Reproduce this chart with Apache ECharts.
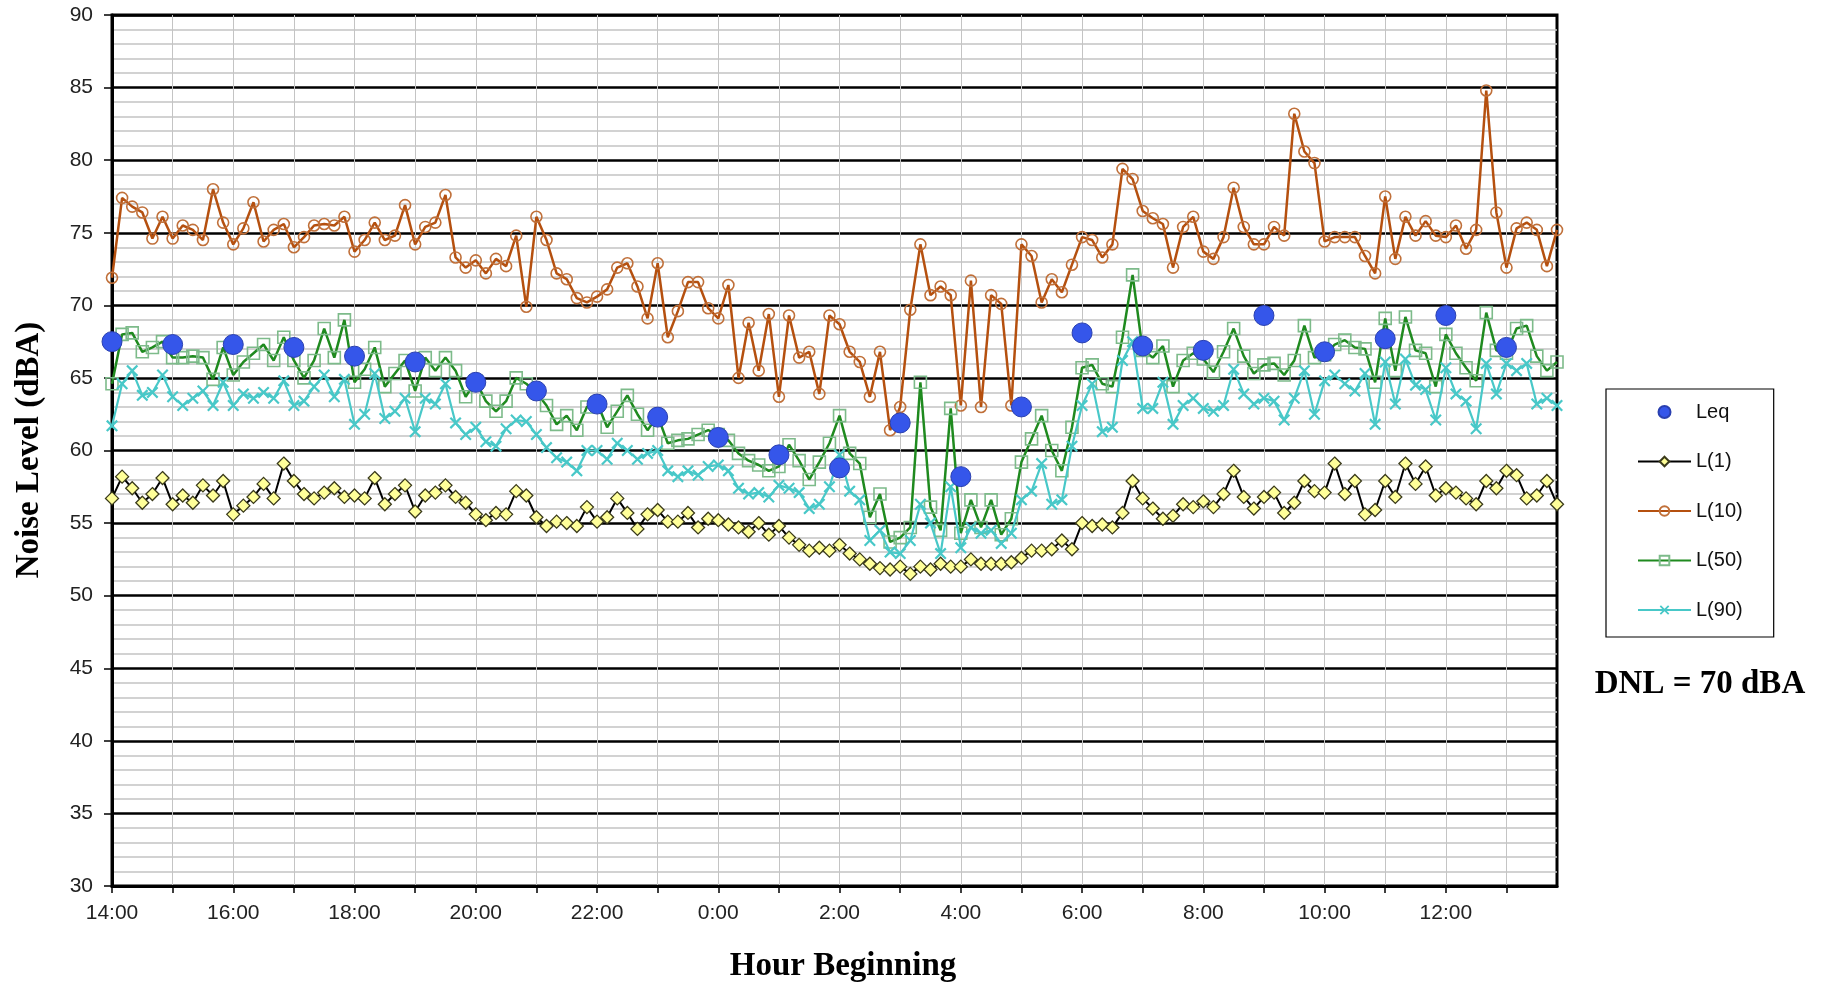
<!DOCTYPE html>
<html>
<head>
<meta charset="utf-8">
<script src="https://cdn.jsdelivr.net/npm/echarts@6/dist/echarts.min.js"></script>
<style>
html,body{margin:0;padding:0;background:#fff;}
#chart{width:1830px;height:986px;}
</style>
</head>
<body>
<div id="chart"></div>
<script>
// ---- data (10-minute intervals starting 14:00) ----
const startHour = 14;
const stepsPerHour = 6;
const nSteps = 144;
const categories = [];
for (let k = 0; k < nSteps; k++) {
  const h = (startHour + Math.floor(k / stepsPerHour)) % 24;
  const m = (k % stepsPerHour) * 10;
  categories.push(h + ':' + (m < 10 ? '0' + m : m));
}

const L1 = [56.7,58.2,57.4,56.4,57.0,58.1,56.3,56.9,56.4,57.6,56.9,57.9,55.6,56.2,56.8,57.7,56.7,59.1,57.9,57.0,56.7,57.1,57.4,56.8,
56.9,56.7,58.1,56.3,57.0,57.6,55.8,56.9,57.1,57.6,56.8,56.4,55.6,55.2,55.7,55.6,57.2,56.9,55.4,54.8,55.1,55.0,54.8,56.1,
55.1,55.4,56.7,55.7,54.6,55.6,55.9,55.1,55.1,55.7,54.7,55.3,55.2,54.9,54.7,54.4,55.0,54.2,54.8,54.0,53.5,53.1,53.3,53.1,
53.5,52.9,52.5,52.2,51.9,51.8,52.0,51.5,52.0,51.8,52.2,52.0,52.0,52.5,52.2,52.2,52.2,52.3,52.6,53.1,53.1,53.2,53.8,53.2,
55.0,54.8,54.9,54.7,55.7,57.9,56.7,56.0,55.3,55.5,56.3,56.1,56.5,56.1,57.0,58.6,56.8,56.0,56.8,57.1,55.7,56.4,57.9,57.2,
57.1,59.1,57.0,57.9,55.6,55.9,57.9,56.8,59.1,57.7,58.9,56.9,57.4,57.1,56.7,56.3,57.9,57.4,58.6,58.3,56.7,56.9,57.9,56.3];

const L10 = [71.9,77.4,76.8,76.4,74.6,76.1,74.6,75.5,75.2,74.5,78.0,75.7,74.2,75.3,77.1,74.4,75.2,75.6,74.0,74.7,75.5,75.6,75.5,76.1,
73.7,74.5,75.7,74.5,74.8,76.9,74.2,75.4,75.7,77.6,73.3,72.6,73.1,72.2,73.2,72.7,74.8,69.9,76.1,74.5,72.2,71.8,70.5,70.2,
70.6,71.1,72.6,72.9,71.3,69.1,72.9,67.8,69.6,71.6,71.6,69.8,69.1,71.4,65.0,68.8,65.5,69.4,63.7,69.3,66.4,66.8,63.9,69.3,
68.7,66.8,66.1,63.7,66.8,61.4,63.0,69.7,74.2,70.7,71.3,70.7,63.1,71.7,63.0,70.7,70.1,63.1,74.2,73.4,70.2,71.8,70.9,72.8,
74.7,74.5,73.3,74.2,79.4,78.7,76.5,76.0,75.6,72.6,75.4,76.1,73.7,73.2,74.7,78.1,75.4,74.2,74.2,75.4,74.8,83.2,80.6,79.8,
74.4,74.7,74.7,74.7,73.4,72.2,77.5,73.2,76.1,74.8,75.8,74.8,74.7,75.5,73.9,75.2,84.8,76.4,72.6,75.3,75.7,75.2,72.7,75.2];

const L50 = [64.6,68.0,68.1,66.8,67.1,67.5,66.4,66.4,66.5,66.4,64.9,67.1,65.2,66.1,66.7,67.3,66.2,67.8,66.2,65.0,66.2,68.4,66.4,69.0,
64.7,65.6,67.1,64.4,65.3,66.2,64.1,66.4,65.5,66.4,65.5,63.7,64.8,63.4,62.7,63.4,65.0,64.6,64.0,63.1,61.8,62.4,61.4,63.0,
63.3,61.6,62.7,63.8,62.5,61.4,62.4,60.5,60.7,60.8,61.1,61.4,61.1,60.7,59.8,59.3,59.0,58.6,58.9,60.4,59.3,58.0,59.2,60.5,
62.4,59.8,59.1,55.4,57.0,53.7,54.0,54.7,64.7,56.1,54.5,62.9,54.3,56.6,54.7,56.6,54.2,55.3,59.2,60.8,62.4,60.0,58.6,61.6,
65.7,65.9,64.6,64.4,67.8,72.1,66.9,66.4,67.2,64.4,66.2,66.7,66.3,65.4,66.8,68.4,66.5,65.3,65.9,66.0,65.2,66.2,68.6,66.4,
66.6,67.3,67.6,67.1,67.0,64.7,69.1,65.5,69.2,66.9,66.7,64.4,68.0,66.7,65.7,64.8,69.5,66.9,66.7,68.4,68.6,66.5,65.5,66.1];

const L90 = [61.7,64.6,65.5,63.8,64.0,65.2,63.7,63.1,63.6,64.1,63.1,64.7,63.1,63.9,63.6,64.0,63.6,64.8,63.1,63.4,64.4,65.2,63.7,64.9,
61.8,62.5,65.3,62.2,62.7,63.6,61.3,63.6,63.2,64.6,61.9,61.1,61.6,60.6,60.3,61.5,62.1,62.0,61.1,60.2,59.5,59.2,58.6,60.0,
60.0,59.4,60.5,60.0,59.4,59.8,60.0,58.6,58.2,58.6,58.3,58.9,59.0,58.6,57.4,57.0,57.1,56.8,57.6,57.4,57.1,56.0,56.3,57.5,
59.7,57.2,56.6,53.8,54.5,53.0,52.9,53.8,56.3,55.0,52.9,57.5,53.3,54.7,54.3,54.5,53.6,54.3,56.6,57.2,59.1,56.3,56.6,60.3,
63.1,64.6,61.3,61.6,66.2,67.5,62.9,62.9,64.7,61.8,63.1,63.6,62.9,62.7,63.1,65.6,63.9,63.2,63.6,63.4,62.1,63.6,65.5,62.5,
64.8,65.2,64.6,64.1,65.3,61.8,66.1,63.2,66.3,64.5,64.2,62.1,65.7,63.9,63.4,61.5,66.0,63.9,66.0,65.5,66.0,63.2,63.6,63.1];

// hourly Leq, one per hour beginning 14:00
const Leq = [67.5,67.3,67.3,67.1,66.5,66.1,64.7,64.1,63.2,62.3,60.9,59.7,58.8,61.9,58.2,63.0,68.1,67.2,66.9,69.3,66.8,67.7,69.3,67.1];

const yTicks = [30,35,40,45,50,55,60,65,70,75,80,85,90];
const seriesNames = ['Leq','L(1)','L(10)','L(50)','L(90)'];
const dnlText = 'DNL = 70 dBA';
const xTitle = 'Hour Beginning';
const yTitle = 'Noise Level (dBA)';

// ---- chart ----
const chart = echarts.init(document.getElementById('chart'), null, {renderer: 'canvas'});
const sans = 'Liberation Sans, Arial, sans-serif';
const serif = 'Liberation Serif, Times New Roman, serif';
const xMark = 'path://M0,1.3L1.3,0L5,3.7L8.7,0L10,1.3L6.3,5L10,8.7L8.7,10L5,6.3L1.3,10L0,8.7L3.7,5Z';

const leqData = Leq.map((v, h) => [h * stepsPerHour, v]);

const option = {
  animation: false,
  backgroundColor: '#ffffff',
  grid: {left: 112, right: 273, top: 15, bottom: 100, show: true,
    borderColor: '#000', borderWidth: 3, backgroundColor: 'transparent'},
  legend: {
    data: seriesNames,
    orient: 'vertical',
    left: 1606, top: 389,
    padding: [13, 31, 17, 31],
    itemWidth: 53, itemHeight: 12, itemGap: 29.5,
    borderColor: '#000', borderWidth: 1.2,
    textStyle: {fontFamily: sans, fontSize: 20, color: '#111'},
    selectedMode: false
  },
  xAxis: {
    type: 'category',
    data: categories,
    boundaryGap: false,
    axisLine: {lineStyle: {color: '#000', width: 3}},
    axisTick: {interval: (i) => i % stepsPerHour === 0, length: 7, lineStyle: {color: '#000', width: 1.5}},
    axisLabel: {interval: (i) => i % (2 * stepsPerHour) === 0, margin: 17,
      fontFamily: sans, fontSize: 21, color: '#222',
      formatter: (v) => v},
    splitLine: {show: true, interval: (i) => i % stepsPerHour === 0, lineStyle: {color: '#c4c4c4', width: 1}}
  },
  yAxis: {
    type: 'value',
    min: yTicks[0], max: yTicks[yTicks.length - 1], interval: 5,
    axisLine: {show: true, lineStyle: {color: '#000', width: 3}},
    axisTick: {show: true, length: 8, lineStyle: {color: '#000', width: 1.5}},
    axisLabel: {margin: 19, fontFamily: sans, fontSize: 21, color: '#222'},
    splitLine: {show: true, lineStyle: {color: '#000', width: 2.5}},
    minorTick: {show: false, splitNumber: 5},
    minorSplitLine: {show: true, lineStyle: {color: '#c4c4c4', width: 1.5}}
  },
  series: [
    {
      name: 'L(1)', type: 'line', data: L1, z: 3,
      symbol: 'diamond', symbolSize: 13, showAllSymbol: true,
      lineStyle: {color: '#000', width: 2},
      itemStyle: {color: '#ffff99', borderColor: '#3a3a1a', borderWidth: 1.3}
    },
    {
      name: 'L(10)', type: 'line', data: L10, z: 4,
      symbol: 'circle', symbolSize: 11, showAllSymbol: true,
      lineStyle: {color: '#b5500f', width: 2.5},
      itemStyle: {color: 'rgba(255,255,255,0)', borderColor: '#c0703a', borderWidth: 1.6}
    },
    {
      name: 'L(50)', type: 'line', data: L50, z: 5,
      symbol: 'rect', symbolSize: 12, showAllSymbol: true,
      lineStyle: {color: '#1f8a1f', width: 2.5},
      itemStyle: {color: 'rgba(255,255,255,0)', borderColor: '#7dbb8a', borderWidth: 1.6}
    },
    {
      name: 'L(90)', type: 'line', data: L90, z: 6,
      symbol: xMark, symbolSize: 12, showAllSymbol: true,
      lineStyle: {color: '#48c8c8', width: 2.2},
      itemStyle: {color: '#48c8c8'}
    },
    {
      name: 'Leq', type: 'scatter', data: leqData, z: 10,
      symbol: 'circle', symbolSize: 20,
      itemStyle: {color: '#3556ea', borderColor: '#2a40b0', borderWidth: 1, opacity: 1}
    }
  ],
  graphic: [
    {type: 'text', x: 843, y: 966, style: {text: xTitle, font: 'bold 33px ' + serif, fill: '#000',
      textAlign: 'center', textVerticalAlign: 'middle'}},
    {type: 'text', x: 29, y: 450, rotation: Math.PI / 2, style: {text: yTitle, font: 'bold 33px ' + serif, fill: '#000',
      textAlign: 'center', textVerticalAlign: 'middle'}},
    {type: 'text', x: 1700, y: 684, style: {text: dnlText, font: 'bold 33px ' + serif, fill: '#000',
      textAlign: 'center', textVerticalAlign: 'middle'}}
  ]
};
chart.setOption(option);
</script>
</body>
</html>
